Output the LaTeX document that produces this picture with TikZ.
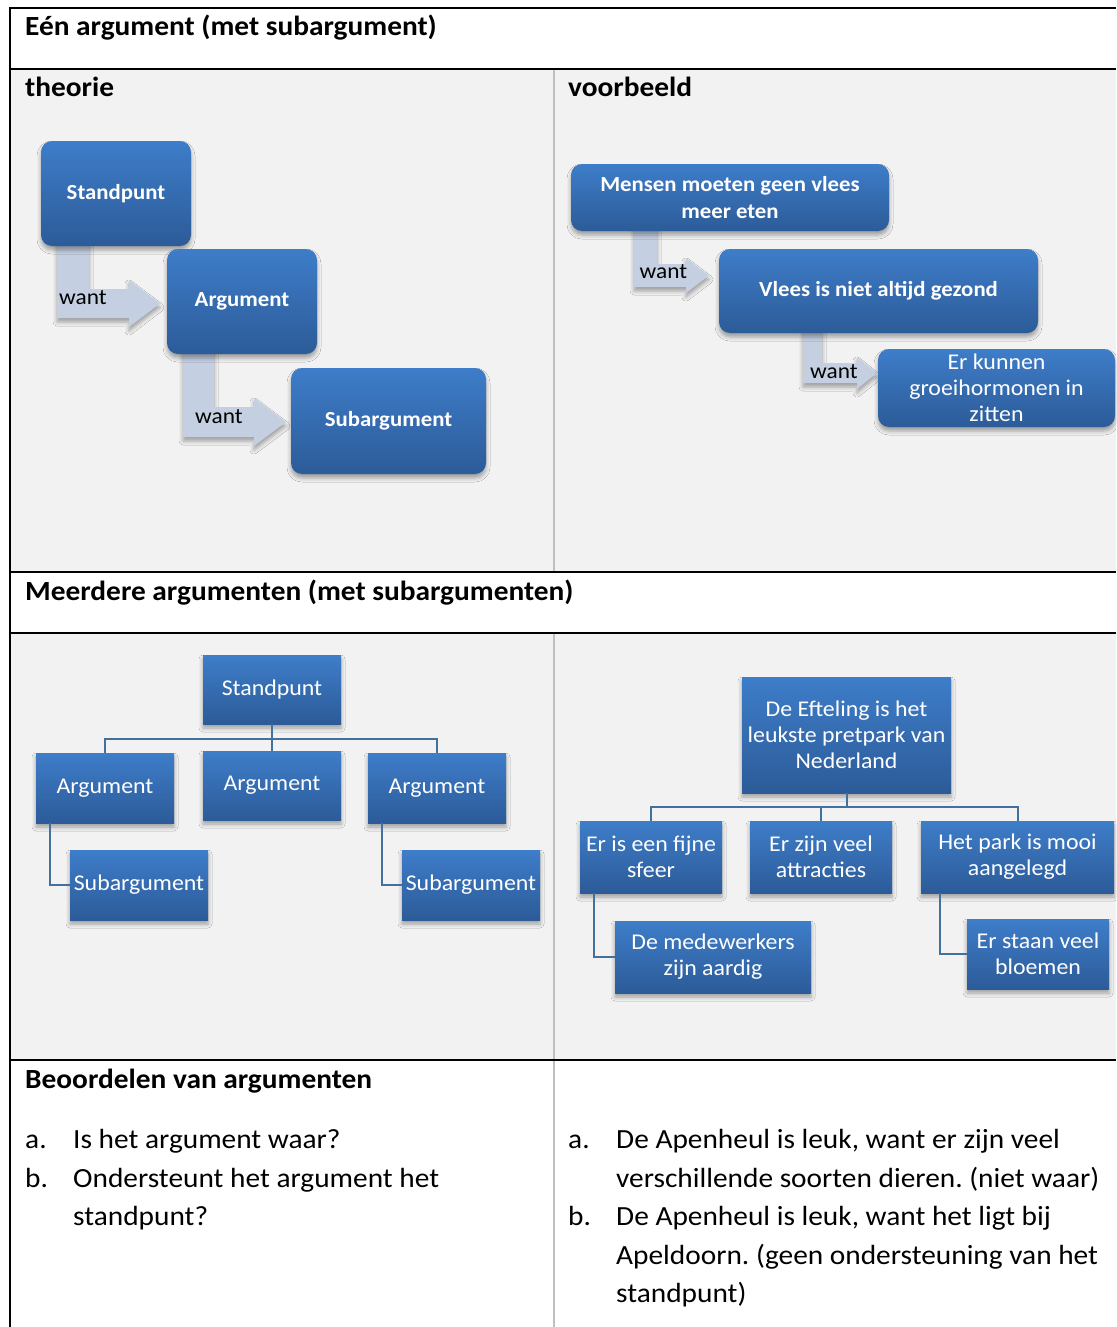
\documentclass[tikz,border=0pt]{standalone}
\usepackage{fontspec}
\setmainfont{Carlito}[FakeStretch=1.06]
\usetikzlibrary{shadows.blur,calc}
\definecolor{boxtop}{HTML}{3E7DC9}
\definecolor{boxbot}{HTML}{2C5B98}
\definecolor{arrowcol}{HTML}{C4CFE2}
\definecolor{bggray}{HTML}{F2F2F2}
\definecolor{conncol}{HTML}{41719C}
\definecolor{divgray}{HTML}{BFBFBF}
\newcommand\hdrfont{\fontsize{27.7}{33}\selectfont\bfseries}
\newcommand\bodyfont{\fontsize{27.7}{38.5}\selectfont}
\newcommand\bxbold{\fontsize{21.5}{27}\selectfont\bfseries}
\newcommand\bxreg{\fontsize{22.5}{26}\selectfont}
\newcommand\wantfont{\fontsize{22}{26}\selectfont}
\frenchspacing
\tikzset{
  myshadow/.style={blur shadow={shadow xshift=0pt, shadow yshift=-4pt, shadow blur radius=4pt, shadow opacity=35}},
  roundbox/.style={rounded corners=11pt, top color=boxtop, bottom color=boxbot, text=white, align=center, inner sep=0pt, myshadow},
  rectbox/.style={top color=boxtop, bottom color=boxbot, text=white, align=center, inner sep=0pt, font=\bxreg, myshadow},
  warrow/.style={fill=arrowcol, draw=none, myshadow},
  wanttxt/.style={anchor=west, inner sep=0pt, font=\wantfont, text=black},
  conn/.style={draw=conncol, line width=2pt},
  hdr/.style={anchor=base west, inner sep=0pt, font=\hdrfont},
  body/.style={anchor=base west, inner sep=0pt, font=\bodyfont},
  tline/.style={line width=2pt, black},
  dline/.style={line width=1.5pt, divgray},
}
\begin{document}
\begin{tikzpicture}[x=1pt, y=-1pt]
\useasboundingbox (0,0) rectangle (1116,1327);
\fill[white] (0,0) rectangle (1116,1327);
% gray cells
\fill[bggray] (10,69) rectangle (1116,572);
\fill[bggray] (10,633) rectangle (1116,1060);
% dividers
\draw[dline] (554,69) -- (554,572);
\draw[dline] (554,633) -- (554,1327);
% table lines
\draw[tline] (10,8) -- (1116,8);
\draw[tline] (10,69) -- (1116,69);
\draw[tline] (10,572) -- (1116,572);
\draw[tline] (10,633) -- (1116,633);
\draw[tline] (10,1060) -- (1116,1060);
\draw[tline] (10,7) -- (10,1327);

% headers
\node[hdr] (h1) at (25,36) {Eén argument (met subargument)};
\node[hdr] (h2) at (25,97) {theorie};
\node[hdr] (h3) at (568,97) {voorbeeld};
\node[hdr] (h4) at (25,600) {Meerdere argumenten (met subargumenten)};
\node[hdr] (h5) at (25,1088) {Beoordelen van argumenten};

% theorie arrows
\fill[warrow] (57,240) -- (89,240) -- (89,289) -- (129,289) -- (129,280) -- (160,303.5) -- (129,327) -- (129,318) -- (57,318) -- cycle;
\fill[warrow] (183,348) -- (214,348) -- (214,407) -- (254,407) -- (254,398) -- (286,422) -- (254,446) -- (254,437) -- (183,437) -- cycle;
% theorie boxes
\node[roundbox, font=\bxbold, minimum width=150, minimum height=105] (tS) at (116,193.5) {Standpunt};
\node[roundbox, font=\bxbold, minimum width=150, minimum height=105] (tA) at (242,301.5) {Argument};
\node[roundbox, font=\bxbold, minimum width=195, minimum height=106] (tSub) at (388.5,421) {Subargument};
\node[wanttxt] (tw1) at (59,298) {want};
\node[wanttxt] (tw2) at (195,417) {want};

% voorbeeld arrows
\fill[warrow] (634,226) -- (657,226) -- (657,264) -- (686,264) -- (686,258) -- (709,275.5) -- (686,293) -- (686,287) -- (634,287) -- cycle;
\fill[warrow] (803,328) -- (822,328) -- (822,363) -- (857,363) -- (857,357) -- (877,373) -- (857,389) -- (857,383) -- (803,383) -- cycle;
% voorbeeld boxes
\node[roundbox, font=\bxbold, minimum width=318, minimum height=67] (vM) at (730,197.5) {Mensen moeten geen vlees\\meer eten};
\node[roundbox, font=\bxbold, minimum width=319, minimum height=84] (vV) at (878.5,291) {Vlees is niet altijd gezond};
\node[roundbox, font=\bxreg, minimum width=237, minimum height=78] (vE) at (996.5,388) {Er kunnen\\groeihormonen in\\zitten};
\node[wanttxt] (vw1) at (639.5,272) {want};
\node[wanttxt] (vw2) at (810,372) {want};

% meerdere theorie
\node[rectbox, minimum width=138, minimum height=69] (mS) at (272,689.5) {Standpunt};
\node[rectbox, minimum width=138, minimum height=70] (mA1) at (105,788) {Argument};
\node[rectbox, minimum width=138, minimum height=69] (mA2) at (272,785.5) {Argument};
\node[rectbox, minimum width=138, minimum height=70] (mA3) at (437,788) {Argument};
\node[rectbox, minimum width=138, minimum height=70] (mSub1) at (139,885) {Subargument};
\node[rectbox, minimum width=138, minimum height=70] (mSub2) at (471,885) {Subargument};
\draw[conn] (mS.south) -- ++(0,15) -| (mA1.north);
\draw[conn] (mS.south) -- ++(0,15) -| (mA3.north);
\draw[conn] (mS.south) -- (mA2.north);
\draw[conn] ($(mA1.south west)+(14,0)$) |- (mSub1.west);
\draw[conn] ($(mA3.south west)+(14,0)$) |- (mSub2.west);

% meerdere voorbeeld
\node[rectbox, minimum width=209, minimum height=116] (eS) at (846.5,735) {De Efteling is het\\leukste pretpark van\\Nederland};
\node[rectbox, minimum width=142, minimum height=72] (eA1) at (651,857) {Er is een fijne\\sfeer};
\node[rectbox, minimum width=142, minimum height=72] (eA2) at (821,857) {Er zijn veel\\attracties};
\node[rectbox, minimum width=193, minimum height=72] (eA3) at (1017.5,857) {Het park is mooi\\aangelegd};
\node[rectbox, minimum width=196, minimum height=72] (eSub1) at (713,957) {De medewerkers\\zijn aardig};
\node[rectbox, minimum width=142, minimum height=70] (eSub2) at (1038,954) {Er staan veel\\bloemen};
\draw[conn] (eS.south) -- ++(0,14) -| (eA1.north);
\draw[conn] (eS.south) -- ++(0,14) -| (eA3.north);
\draw[conn] (eS.south) -- ++(0,14) -| (eA2.north);
\draw[conn] ($(eA1.south west)+(14,0)$) |- (eSub1.west);
\draw[conn] ($(eA3.south west)+(19,0)$) |- (eSub2.west);

% bottom lists
\node[body] (la) at (25,1148) {a.};
\node[body] (lat) at (73,1148) {Is het argument waar?};
\node[body] (lb) at (25,1187) {b.};
\node[body] (lbt) at (73,1187) {Ondersteunt het argument het};
\node[body] (lbt2) at (73,1225) {standpunt?};
\node[body] (ra) at (568,1148) {a.};
\node[body] (rat) at (616,1148) {De Apenheul is leuk, want er zijn veel};
\node[body] (rat2) at (616,1187) {verschillende soorten dieren. (niet waar)};
\node[body] (rb) at (568,1225) {b.};
\node[body] (rbt) at (616,1225) {De Apenheul is leuk, want het ligt bij};
\node[body] (rbt2) at (616,1264) {Apeldoorn. (geen ondersteuning van het};
\node[body] (rbt3) at (616,1302) {standpunt)};
\end{tikzpicture}
\end{document}
